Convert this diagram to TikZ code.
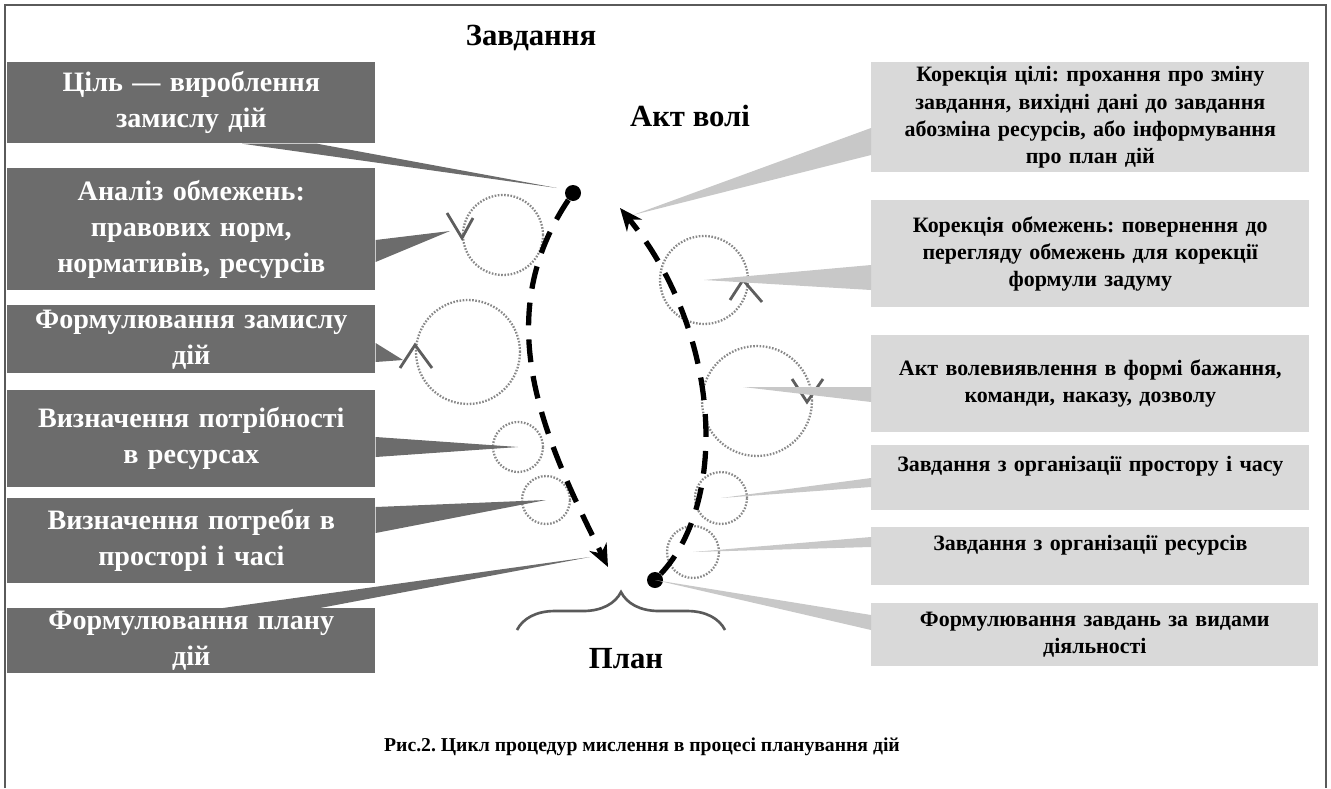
\documentclass[tikz,border=0pt]{standalone}
\usepackage{fontspec}
\setmainfont{Liberation Serif}
\frenchspacing
\usetikzlibrary{arrows.meta,calc,decorations.pathreplacing}
\definecolor{boxdark}{RGB}{108,108,108}
\definecolor{boxlight}{RGB}{217,217,217}
\definecolor{wedgelight}{RGB}{200,200,200}
\definecolor{ringgray}{RGB}{135,135,135}
\definecolor{framegray}{RGB}{90,90,90}

\begin{document}
\begin{tikzpicture}[x=0.02cm, y=-0.02cm,
  dbox/.style={fill=boxdark, text=white, inner sep=0pt, anchor=north west, align=center,
    text width=7.36cm, font=\fontsize{16}{20.5}\selectfont\bfseries},
  lbox/.style={fill=boxlight, inner sep=0pt, anchor=north west, align=center,
    text width=8.76cm, font=\fontsize{12.5}{15.5}\selectfont\bfseries},
  ring/.style={circle, draw=ringgray, line width=1.3pt, dash pattern=on 0.9pt off 0.9pt, inner sep=0pt},
  tick/.style={draw=ringgray!70!black, line width=1.6pt},
  dot/.style={circle, fill=black, inner sep=0pt, minimum size=0.32cm},
  flow/.style={line width=3pt, dash pattern=on 13pt off 8pt, -{Stealth[length=0.45cm, width=0.38cm]}},
  lbl/.style={font=\fontsize{17.5}{20}\selectfont\bfseries}]
  \useasboundingbox (0,0) rectangle (1331,788);
  \draw[framegray, line width=1.2pt] (5,788) -- (5,5) -- (1326,5) -- (1326,788);

  \node[lbl] (task) at (531,38) {Завдання};
  \node[lbl] (volition) at (690,116) {Акт волі};
  \node[lbl] (plan) at (626,659) {План};
  \node[font=\fontsize{11.2}{13}\selectfont\bfseries] (caption) at (642,747)
    {Рис.2. Цикл процедур мислення в процесі планування дій};

  \node[dbox, minimum height=1.62cm] (goal) at (7,62) {Ціль — вироблення\\замислу дій};
  \node[dbox, minimum height=2.44cm] (limits) at (7,168) {Аналіз обмежень:\\правових норм,\\нормативів, ресурсів};
  \node[dbox, minimum height=1.36cm] (idea) at (7,305) {Формулювання замислу\\дій};
  \node[dbox, minimum height=1.94cm] (needres) at (7,390) {Визначення потрібності\\в ресурсах};
  \node[dbox, minimum height=1.70cm] (needspace) at (7,498) {Визначення потреби в\\просторі і часі};
  \node[dbox, minimum height=1.30cm] (planform) at (7,608) {Формулювання плану\\дій};

  \node[lbox, minimum height=2.20cm] (corgoal) at (871,62) {Корекція цілі: прохання про зміну\\завдання, вихідні дані до завдання\\абозміна ресурсів, або інформування\\про план дій};
  \node[lbox, minimum height=2.14cm] (corlim) at (871,200) {Корекція обмежень: повернення до\\перегляду обмежень для корекції\\формули задуму};
  \node[lbox, minimum height=1.94cm] (willact) at (871,335) {Акт волевиявлення в формі бажання,\\команди, наказу, дозволу};
  \node[lbox, minimum height=1.30cm] (orgspace) at (871,445) {Завдання з організації простору і часу\\\mbox{}};
  \node[lbox, minimum height=1.16cm] (orgres) at (871,527) {Завдання з організації ресурсів\\\mbox{}};
  \node[lbox, minimum height=1.26cm, text width=8.94cm] (taskform) at (871,603) {Формулювання завдань за видами\\діяльності};

  \node[ring, minimum size=1.60cm] (rlimits) at (503,235) {};
  \node[ring, minimum size=2.08cm] (ridea) at (468,352) {};
  \node[ring, minimum size=1.00cm] (rneedres) at (518,447) {};
  \node[ring, minimum size=0.96cm] (rneedspace) at (546,500) {};
  \node[ring, minimum size=1.76cm] (rcorlim) at (704,280) {};
  \node[ring, minimum size=2.20cm] (rwill) at (757,401) {};
  \node[ring, minimum size=1.04cm] (rorgspace) at (721,498) {};
  \node[ring, minimum size=1.04cm] (rorgres) at (693,552) {};

  \draw[tick] (447,213) -- (462,238) -- (473,218);
  \draw[tick] (400,368) -- (415,345) -- (432,368);
  \draw[tick] (730,300) -- (743,280) -- (762,302);
  \draw[tick] (792,379) -- (807,402) -- (823,379);

  \node[dot] (start) at (573,193) {};
  \node[dot] (finish) at (655,580) {};
  \coordinate (down) at (608,567);
  \coordinate (up) at (620,208);
  \coordinate (tgoal) at (557,188);
  \coordinate (tlimits) at (450,231);
  \coordinate (tidea) at (403,360);
  \coordinate (tplan) at (590,557);
  \coordinate (tcorgoal) at (633,215);
  \coordinate (twill) at (743,387);

  \fill[boxdark] ($(goal.south west)+(235,0)$) -- (tgoal) -- ($(goal.south west)+(310,0)$) -- cycle;
  \fill[boxdark] ($(limits.north east)+(0,72)$) -- (tlimits) -- ($(limits.north east)+(0,94)$) -- cycle;
  \fill[boxdark] ($(idea.north east)+(0,38)$) -- (tidea) -- ($(idea.north east)+(0,57)$) -- cycle;
  \fill[boxdark] ($(needres.north east)+(0,47)$) -- (rneedres.center) -- ($(needres.north east)+(0,67)$) -- cycle;
  \fill[boxdark] ($(needspace.north east)+(0,9)$) -- (rneedspace.center) -- ($(needspace.north east)+(0,35)$) -- cycle;
  \fill[boxdark] ($(planform.north west)+(216,0)$) -- (tplan) -- ($(planform.north west)+(313,0)$) -- cycle;

  \fill[wedgelight] ($(corgoal.north west)+(0,66)$) -- (tcorgoal) -- ($(corgoal.north west)+(0,93)$) -- cycle;
  \fill[wedgelight] ($(corlim.north west)+(0,65)$) -- (rcorlim.center) -- ($(corlim.north west)+(0,90)$) -- cycle;
  \fill[wedgelight] ($(willact.north west)+(0,52)$) -- (twill) -- ($(willact.north west)+(0,67)$) -- cycle;
  \fill[wedgelight] ($(orgspace.north west)+(0,33)$) -- (rorgspace.center) -- ($(orgspace.north west)+(0,42)$) -- cycle;
  \fill[wedgelight] ($(orgres.north west)+(0,10)$) -- (rorgres.center) -- ($(orgres.north west)+(0,20)$) -- cycle;
  \fill[wedgelight] ($(taskform.north west)+(0,12)$) -- (finish.center) -- ($(taskform.north west)+(0,27)$) -- cycle;

  \draw[flow] (start) .. controls (488,320) and (545,440) .. (down);
  \draw[flow] (finish) .. controls (730,500) and (720,330) .. (up);

  \coordinate (bl) at (517,630);
  \coordinate (br) at (725,630);
  \draw[framegray, line width=1.5pt, decorate, decoration={brace, amplitude=0.76cm}] (bl) -- (br);
\end{tikzpicture}
\end{document}
